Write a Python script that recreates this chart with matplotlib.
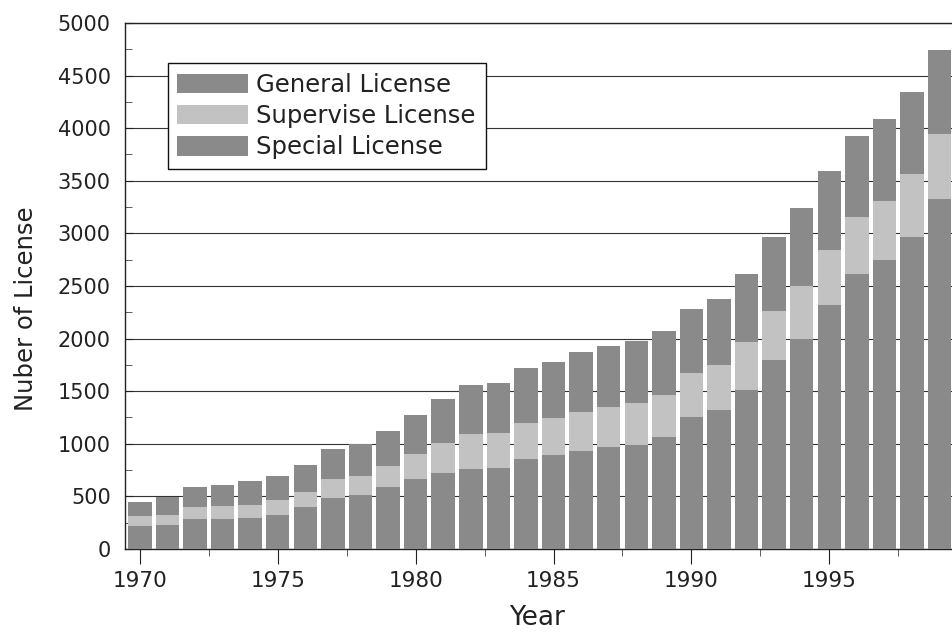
import matplotlib
matplotlib.use("Agg")
import matplotlib.pyplot as plt
from matplotlib.ticker import MultipleLocator
import numpy as np

plt.rcParams['font.family'] = ['DejaVu Sans']

# values (licence counts per year)
years = np.arange(1970, 2000)
special = [215, 227, 285, 285, 291, 326, 400, 489, 515, 592,
           662, 720, 765, 774, 856, 889, 929, 972, 991, 1063,
           1252, 1317, 1509, 1800, 1996, 2315, 2612, 2743, 2968, 3324]
supervise = [100, 99, 115, 121, 128, 138, 140, 180, 179, 198,
             243, 288, 329, 327, 341, 356, 370, 381, 399, 399,
             421, 436, 454, 460, 508, 526, 545, 563, 592, 624]
general = [130, 170, 185, 205, 227, 230, 257, 281, 304, 336,
           371, 415, 464, 474, 519, 533, 570, 581, 587, 606,
           613, 627, 649, 708, 736, 751, 765, 780, 787, 798]

dark = '#8a8a8a'
light = '#c2c2c2'

fig = plt.figure(figsize=(9.52, 6.33), dpi=100)
ax = fig.add_axes([0.131, 0.1327, 0.869, 0.831])

bottom2 = np.array(special)
bottom3 = bottom2 + np.array(supervise)
w = 0.85
b1 = ax.bar(years, special, width=w, color=dark, linewidth=0, zorder=3)
b2 = ax.bar(years, supervise, width=w, bottom=bottom2, color=light, linewidth=0, zorder=3)
b3 = ax.bar(years, general, width=w, bottom=bottom3, color=dark, linewidth=0, zorder=3)

ax.set_xlim(1969.45, 1999.45)
ax.set_ylim(0, 5000)
ax.yaxis.set_major_locator(MultipleLocator(500))
ax.yaxis.set_minor_locator(MultipleLocator(250))
ax.xaxis.set_major_locator(MultipleLocator(5))
ax.xaxis.set_minor_locator(MultipleLocator(2.5))

ax.grid(axis='y', which='major', color='#333333', linewidth=0.8, zorder=1)
ax.tick_params(axis='y', which='major', direction='in', length=6, labelsize=15,
               pad=10, colors='#222222')
ax.tick_params(axis='y', which='minor', direction='in', length=5, colors='#444444')
ax.tick_params(axis='x', which='major', direction='out', length=11, labelsize=15.5,
               pad=5, colors='#222222')
ax.tick_params(axis='x', which='minor', direction='out', length=5, colors='#444444')

for s in ['left', 'top', 'bottom']:
    ax.spines[s].set_color('#222222')
    ax.spines[s].set_linewidth(1.0)
ax.spines['right'].set_visible(False)

ax.set_xlabel('Year', fontsize=19, color='#222222')
ax.xaxis.set_label_coords(0.498, -0.107)
ax.set_ylabel('Nuber of License', fontsize=17.5, color='#222222')
ax.yaxis.set_label_coords(-0.105, 0.456)

leg = ax.legend([b3, b2, b1], ['General License', 'Supervise License', 'Special License'],
                loc='upper left', bbox_to_anchor=(0.052, 0.924), fontsize=17.5,
                frameon=True, fancybox=False, edgecolor='#111111', framealpha=1,
                handlelength=2.9, handleheight=0.85, borderpad=0.4, labelspacing=0.3,
                handletextpad=0.35, borderaxespad=0)
leg.get_frame().set_linewidth(1.0)
leg.set_zorder(5)
for t in leg.get_texts():
    t.set_color('#222222')

fig.savefig('out.png', dpi=100)
